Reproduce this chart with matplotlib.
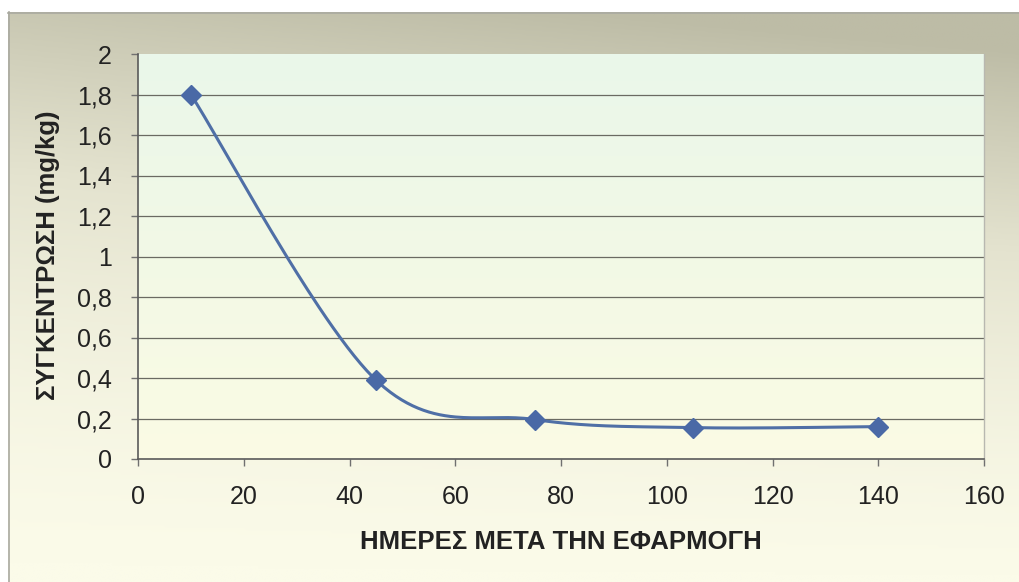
import numpy as np
import matplotlib
matplotlib.use("Agg")
import matplotlib.pyplot as plt
from matplotlib.colors import LinearSegmentedColormap

# ---- data ----
days = [10, 45, 75, 105, 140]
conc = [1.8, 0.39, 0.195, 0.155, 0.16]
x_ticks = [0, 20, 40, 60, 80, 100, 120, 140, 160]
y_ticks = [0, 0.2, 0.4, 0.6, 0.8, 1.0, 1.2, 1.4, 1.6, 1.8, 2.0]
x_label = "ΗΜΕΡΕΣ ΜΕΤΑ ΤΗΝ ΕΦΑΡΜΟΓΗ"
y_label = "ΣΥΓΚΕΝΤΡΩΣΗ (mg/kg)"

plt.rcParams['font.family'] = ['Liberation Sans', 'DejaVu Sans']

W, H = 1020, 582
fig = plt.figure(figsize=(W / 100, H / 100), dpi=100)
fig.patch.set_facecolor('white')

# ---- outer chart background (grey top -> cream bottom) ----
bg = fig.add_axes([8 / W, 0, 1 - 8 / W, (H - 12) / H], zorder=0)
ny, nx = 200, 200
yy, xx = np.mgrid[0:1:ny * 1j, 0:1:nx * 1j]
t = np.clip(0.85 * (1 - yy) ** 1.6 + 0.25 * xx * (1 - yy), 0, 1)  # yy=0 top
cmap_bg = LinearSegmentedColormap.from_list('bg', ['#fbfbe9', '#e4e3cf', '#bdbca6'])
bg.imshow(t, cmap=cmap_bg, vmin=0, vmax=1, extent=[0, 1, 0, 1], aspect='auto',
          origin='upper', interpolation='bilinear')
bg.set_xlim(0, 1); bg.set_ylim(0, 1)
bg.axis('off')
bg.plot([0.0008, 0.0008], [0, 1], color='#a9a9a0', lw=1.2, clip_on=False)
bg.plot([0, 1], [0.999, 0.999], color='#a9a9a0', lw=1.2, clip_on=False)

# ---- plot area ----
L, R, T, B = 138, 984, 54, 459
ax = fig.add_axes([L / W, (H - B) / H, (R - L) / W, (B - T) / H], zorder=1)
ax.set_facecolor('none')
ax.set_xlim(0, 160)
ax.set_ylim(0, 2)

grad = np.linspace(0, 1, 100).reshape(-1, 1)
cmap_pa = LinearSegmentedColormap.from_list('pa', ['#fbfbe4', '#f2f9e6', '#eaf7ea'])
ax.imshow(grad, cmap=cmap_pa, extent=[0, 160, 0, 2], aspect='auto', origin='lower',
          zorder=0, interpolation='bilinear')

for yv in y_ticks[1:-1]:
    ax.axhline(yv, color='#6a6a62', lw=0.9, zorder=1)

# Excel-style smoothed line (Catmull-Rom / Bezier through the points)
px = np.array(days, float)
py = np.array(conc, float)
n = len(px)
cx, cy = [], []
for i in range(n - 1):
    p0 = max(i - 1, 0); p3 = min(i + 2, n - 1)
    c1x = px[i] + (px[i + 1] - px[p0]) / 6
    c1y = py[i] + (py[i + 1] - py[p0]) / 6
    c2x = px[i + 1] - (px[p3] - px[i]) / 6
    c2y = py[i + 1] - (py[p3] - py[i]) / 6
    s = np.linspace(0, 1, 60)
    bx = (1 - s) ** 3 * px[i] + 3 * (1 - s) ** 2 * s * c1x + 3 * (1 - s) * s ** 2 * c2x + s ** 3 * px[i + 1]
    by = (1 - s) ** 3 * py[i] + 3 * (1 - s) ** 2 * s * c1y + 3 * (1 - s) * s ** 2 * c2y + s ** 3 * py[i + 1]
    cx.extend(bx); cy.extend(by)
ax.plot(cx, cy, color='#4f6fa6', lw=2.2, zorder=3, solid_capstyle='round')
ax.plot(days, conc, linestyle='none', marker='D', markersize=10,
        color='#4a69a6', markeredgecolor='#4a69a6', zorder=4)

# spines
ax.spines['top'].set_visible(False)
ax.spines['right'].set_color('#b8b8b0')
ax.spines['right'].set_linewidth(1.0)
for s_ in ['left', 'bottom']:
    ax.spines[s_].set_color('#5a5a5a')
    ax.spines[s_].set_linewidth(1.2)

ax.set_xticks(x_ticks)
ax.set_yticks(y_ticks)
ax.set_xticklabels([str(v) for v in x_ticks])
ax.set_yticklabels([('%g' % v).replace('.', ',') for v in y_ticks])
ax.tick_params(axis='both', direction='out', length=5, width=1, color='#707070',
               labelsize=18, labelcolor='#222222')
ax.tick_params(axis='y', pad=14)
ax.tick_params(axis='x', pad=14)

fig.text((362 + 760) / 2 / W, 1 - 542 / H, x_label, ha='center', va='center',
         fontsize=18.5, fontweight='bold', color='#222222')
fig.text(48 / W, 1 - 255 / H, y_label, ha='center', va='center', rotation=90,
         fontsize=18.5, fontweight='bold', color='#222222')

fig.savefig('out.png', dpi=100, facecolor='white')
